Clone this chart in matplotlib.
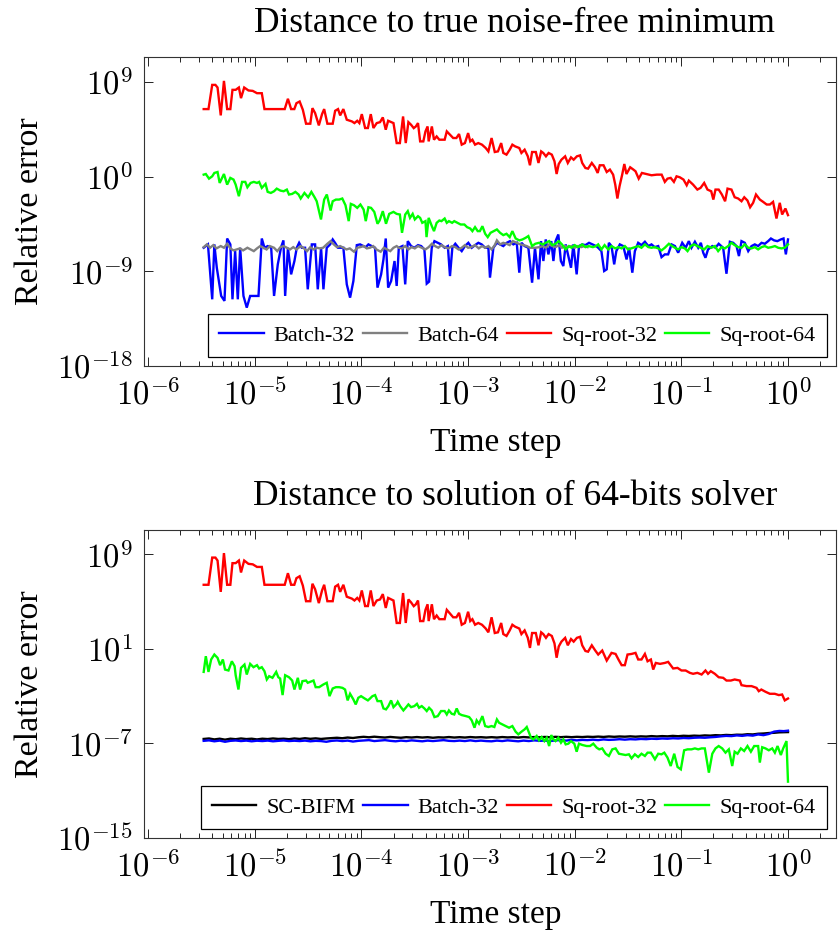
import numpy as np
import matplotlib
matplotlib.use("Agg")
import matplotlib.pyplot as plt
from matplotlib.ticker import FixedLocator, FixedFormatter, LogLocator, NullFormatter, NullLocator

plt.rcParams['font.family'] = ['Liberation Serif', 'DejaVu Serif']
plt.rcParams['mathtext.fontset'] = 'cm'

# ---------------- data: (log10 time step, log10 relative error) ----------------
sqrt32_common = [(-5.48, 6.42), (-5.435, 6.42), (-5.40, 8.72), (-5.37, 8.72), (-5.35, 8.47), (-5.32, 5.82),
    (-5.29, 9.10), (-5.26, 6.42), (-5.23, 6.42), (-5.21, 8.25), (-5.18, 8.25), (-5.15, 8.47), (-5.13, 7.46),
    (-5.10, 8.47), (-5.06, 8.19), (-5.02, 8.15), (-4.98, 7.93), (-4.935, 7.93), (-4.91, 6.42), (-4.72, 6.42),
    (-4.69, 7.40), (-4.66, 6.42), (-4.63, 6.42), (-4.61, 6.98), (-4.58, 7.14), (-4.55, 6.35), (-4.52, 5.03),
    (-4.48, 5.03), (-4.46, 6.51), (-4.435, 6.04), (-4.40, 4.87), (-4.37, 5.94), (-4.35, 6.42), (-4.32, 5.03),
    (-4.27, 5.03), (-4.247, 6.26), (-4.22, 6.42), (-4.20, 5.82), (-4.17, 6.42), (-4.138, 5.41), (-4.09, 5.25),
    (-4.066, 5.09), (-4.04, 5.31), (-4.02, 5.09), (-3.997, 5.94), (-3.966, 4.62), (-3.94, 4.62), (-3.913, 5.94),
    (-3.888, 4.62), (-3.857, 5.09), (-3.826, 5.18), (-3.80, 5.63), (-3.7725, 4.46), (-3.75, 5.31), (-3.70, 5.09),
    (-3.67, 3.19), (-3.64, 3.19), (-3.61, 5.72), (-3.585, 3.19), (-3.56, 5.18), (-3.535, 4.93), (-3.51, 4.61),
    (-3.49, 4.77), (-3.47, 5.09), (-3.45, 3.35), (-3.42, 3.35), (-3.40, 4.30), (-3.38, 4.77), (-3.37, 3.35),
    (-3.34, 4.77), (-3.32, 3.51), (-3.295, 3.82), (-3.27, 3.51), (-3.25, 3.51), (-3.22, 3.51), (-3.20, 4.30),
    (-3.17, 3.98), (-3.14, 3.67), (-3.11, 3.67), (-3.085, 4.05), (-3.06, 3.04), (-3.03, 3.19), (-3.00, 4.14),
    (-2.98, 3.35), (-2.96, 3.51), (-2.935, 3.04), (-2.905, 3.19), (-2.87, 3.04), (-2.835, 2.72), (-2.81, 2.40),
    (-2.78, 3.67), (-2.75, 2.34), (-2.72, 2.40), (-2.69, 3.19), (-2.67, 2.25), (-2.64, 2.09), (-2.61, 2.56),
    (-2.585, 3.04), (-2.56, 2.88), (-2.52, 2.72), (-2.50, 2.25), (-2.47, 2.56), (-2.44, 1.93), (-2.42, 1.08),
    (-2.40, 2.34), (-2.365, 2.34), (-2.34, 1.30), (-2.315, 2.40), (-2.295, 2.25), (-2.27, 1.93), (-2.245, 2.25),
    (-2.215, 2.09), (-2.19, 1.46), (-2.17, 0.25), (-2.15, 1.20), (-2.125, 1.61), (-2.09, 1.93), (-2.065, 1.30),
    (-2.035, 1.83), (-2.01, 1.61), (-1.98, 1.93), (-1.95, 2.02), (-1.93, 1.30), (-1.90, 0.82), (-1.875, 0.76),
    (-1.84, 1.30), (-1.81, 0.89)]

sqrt32_top_tail = [(-1.785, 0.35), (-1.765, 1.08), (-1.73, 1.08), (-1.70, 0.44), (-1.67, 0.67), (-1.64, 0.19),
    (-1.62, -0.76), (-1.60, -2.08), (-1.58, -0.92), (-1.555, 0.19), (-1.535, 1.20), (-1.515, 0.25), (-1.48, 0.89),
    (-1.45, 0.67), (-1.43, 0.51), (-1.40, -0.19), (-1.37, 0.35), (-1.33, 0.25), (-1.28, 0.13), (-1.23, 0.19),
    (-1.185, 0.19), (-1.155, -0.50), (-1.13, -0.19), (-1.10, -0.12), (-1.07, -0.50), (-1.045, 0.03),
    (-1.015, -0.06), (-0.98, -0.28), (-0.95, -0.82), (-0.93, -0.38), (-0.89, -0.76), (-0.85, -1.23),
    (-0.82, -1.07), (-0.786, -0.60), (-0.755, -1.23), (-0.72, -1.39), (-0.70, -2.18), (-0.68, -1.23),
    (-0.65, -1.23), (-0.62, -1.70), (-0.59, -2.34), (-0.567, -1.14), (-0.53, -1.23), (-0.50, -1.96),
    (-0.467, -2.08), (-0.436, -2.34), (-0.41, -1.96), (-0.38, -2.27), (-0.355, -2.91), (-0.327, -2.49),
    (-0.30, -1.70), (-0.264, -2.18), (-0.233, -2.40), (-0.20, -2.65), (-0.17, -2.65), (-0.14, -2.40),
    (-0.108, -3.98), (-0.077, -2.49), (-0.055, -3.60), (-0.024, -3.03), (0.0, -3.66)]

sqrt32_bot_tail = [(-1.78, 0.52), (-1.742, 0.86), (-1.70, 0.01), (-1.655, 0.66), (-1.617, 0.57), (-1.59, 0.10),
    (-1.56, -0.38), (-1.53, -0.38), (-1.505, 0.52), (-1.467, 0.57), (-1.43, 0.66), (-1.405, 0.10), (-1.374, 0.10),
    (-1.342, 0.57), (-1.317, -0.05), (-1.286, 0.10), (-1.264, -0.75), (-1.24, -0.19), (-1.20, -0.27),
    (-1.155, -0.19), (-1.124, -0.10), (-1.077, -0.66), (-1.036, -0.61), (-0.999, -0.83), (-0.96, -0.83),
    (-0.92, -1.03), (-0.89, -1.11), (-0.85, -1.03), (-0.81, -1.17), (-0.774, -0.83), (-0.75, -1.11),
    (-0.724, -0.89), (-0.686, -1.11), (-0.65, -1.40), (-0.608, -1.45), (-0.577, -1.68), (-0.536, -1.68),
    (-0.50, -1.59), (-0.452, -1.68), (-0.436, -2.07), (-0.389, -2.15), (-0.342, -2.15), (-0.295, -2.30),
    (-0.274, -2.58), (-0.25, -2.44), (-0.211, -2.63), (-0.17, -2.80), (-0.124, -2.80), (-0.086, -2.91),
    (-0.055, -2.86), (-0.03, -3.36), (0.0, -3.20)]

sqrt64_top = [(-5.48, 0.19), (-5.46, 0.25), (-5.43, -0.19), (-5.40, 0.03), (-5.38, 0.35), (-5.35, 0.44),
    (-5.33, -0.60), (-5.29, 0.25), (-5.26, -0.76), (-5.23, -0.12), (-5.20, -0.28), (-5.18, -0.76), (-5.15, -1.86),
    (-5.12, -0.50), (-5.09, -0.50), (-5.07, -1.01), (-5.04, -0.60), (-5.01, -0.50), (-4.98, -0.60), (-4.96, -0.50),
    (-4.935, -1.07), (-4.90, -0.69), (-4.88, -1.45), (-4.85, -1.55), (-4.82, -1.39), (-4.795, -1.14),
    (-4.76, -1.33), (-4.73, -1.39), (-4.70, -1.23), (-4.68, -1.70), (-4.65, -1.64), (-4.62, -1.45), (-4.59, -1.70),
    (-4.57, -2.08), (-4.535, -1.55), (-4.50, -1.96), (-4.47, -1.45), (-4.44, -1.96), (-4.42, -2.34), (-4.38, -4.07),
    (-4.35, -2.18), (-4.325, -1.70), (-4.29, -3.22), (-4.27, -2.34), (-4.24, -2.18), (-4.21, -2.18), (-4.18, -2.08),
    (-4.15, -2.72), (-4.12, -4.23), (-4.10, -2.59), (-4.07, -2.72), (-4.04, -2.97), (-4.01, -2.65), (-3.98, -3.13),
    (-3.96, -4.23), (-3.935, -2.91), (-3.91, -2.97), (-3.88, -3.35), (-3.85, -4.48), (-3.83, -4.17), (-3.80, -3.28),
    (-3.77, -4.48), (-3.74, -3.54), (-3.70, -3.35), (-3.67, -3.54), (-3.64, -3.60),
    (-3.62, -5.34), (-3.59, -3.60), (-3.566, -3.28), (-3.545, -3.92), (-3.52, -3.54), (-3.50, -4.07),
    (-3.47, -3.76), (-3.45, -3.92), (-3.43, -4.39), (-3.40, -4.23), (-3.39, -5.75), (-3.37, -3.92), (-3.34, -4.71),
    (-3.32, -5.18), (-3.295, -4.39), (-3.27, -4.17), (-3.25, -4.23), (-3.22, -3.98), (-3.20, -4.39), (-3.18, -4.23),
    (-3.15, -4.39), (-3.13, -4.23), (-3.10, -4.39), (-3.07, -4.55), (-3.035, -4.55), (-3.01, -4.80), (-2.98, -4.93),
    (-2.96, -5.18), (-2.935, -4.80), (-2.91, -5.18), (-2.89, -5.18), (-2.866, -4.71), (-2.84, -5.43),
    (-2.816, -5.75), (-2.79, -5.34), (-2.76, -5.18), (-2.73, -5.02), (-2.70, -5.34), (-2.67, -5.56), (-2.64, -5.43),
    (-2.61, -5.75), (-2.585, -5.18), (-2.554, -5.88), (-2.52, -6.06), (-2.49, -5.97), (-2.46, -5.81),
    (-2.435, -5.65), (-2.40, -6.60), (-2.37, -6.38), (-2.335, -6.29), (-2.30, -6.44), (-2.27, -6.29),
    (-2.24, -6.13), (-2.21, -6.51), (-2.18, -6.38), (-2.15, -6.13), (-2.12, -6.44), (-2.085, -6.92),
    (-2.054, -6.60), (-2.03, -6.76), (-2.00, -6.51), (-1.97, -6.70), (-1.93, -6.44), (-1.90, -6.70),
    (-1.87, -6.60), (-1.83, -6.70), (-1.80, -6.60),
    (-1.78, -6.44), (-1.75, -6.92), (-1.72, -6.51), (-1.686, -6.92), (-1.655, -6.60), (-1.62, -6.82),
    (-1.59, -6.70), (-1.56, -6.82), (-1.53, -6.60), (-1.50, -6.92), (-1.47, -6.82), (-1.436, -6.70),
    (-1.405, -6.60), (-1.374, -6.76), (-1.342, -6.44), (-1.31, -6.70), (-1.28, -6.76), (-1.25, -6.70),
    (-1.217, -6.82), (-1.186, -7.01), (-1.155, -6.76), (-1.117, -6.38), (-1.086, -6.60), (-1.06, -6.76),
    (-1.03, -6.92), (-0.999, -6.70), (-0.967, -6.82), (-0.942, -7.08), (-0.911, -6.60), (-0.88, -6.44),
    (-0.85, -6.60), (-0.817, -6.76), (-0.786, -6.92), (-0.755, -6.60), (-0.717, -6.76), (-0.686, -6.60),
    (-0.655, -7.08), (-0.623, -6.70), (-0.592, -6.82), (-0.561, -6.60), (-0.53, -6.29), (-0.50, -6.51),
    (-0.467, -6.70), (-0.436, -6.76), (-0.405, -6.44), (-0.373, -6.76), (-0.342, -6.82), (-0.311, -6.70),
    (-0.28, -6.92), (-0.248, -6.70), (-0.217, -6.60), (-0.186, -6.76), (-0.155, -6.70), (-0.123, -6.60),
    (-0.092, -6.76), (-0.061, -6.82), (-0.03, -6.76), (0.0, -6.44)]

batch32_top = [(-5.48, -6.76), (-5.44, -6.44), (-5.40, -11.66), (-5.38, -6.44), (-5.357, -8.66), (-5.316, -11.34),
    (-5.285, -11.81), (-5.26, -5.88), (-5.23, -6.44), (-5.21, -11.66), (-5.185, -7.08), (-5.16, -11.66),
    (-5.138, -6.76), (-5.107, -11.34), (-5.076, -12.45), (-5.044, -11.34), (-4.966, -11.34), (-4.935, -5.88),
    (-4.91, -6.76), (-4.879, -6.60), (-4.847, -6.76), (-4.82, -11.34), (-4.785, -8.34), (-4.754, -6.70),
    (-4.732, -6.06), (-4.716, -11.34), (-4.69, -6.76), (-4.66, -9.29), (-4.629, -8.02), (-4.607, -6.76),
    (-4.585, -6.29), (-4.56, -6.76), (-4.529, -6.76), (-4.504, -10.71), (-4.466, -6.44), (-4.435, -6.44),
    (-4.41, -10.71), (-4.379, -6.76), (-4.357, -10.71), (-4.326, -6.76), (-4.294, -6.44), (-4.27, -5.97),
    (-4.248, -6.29), (-4.22, -6.76), (-4.20, -6.76), (-4.17, -6.76), (-4.138, -10.24), (-4.107, -11.50),
    (-4.076, -9.92), (-4.044, -6.51), (-4.013, -6.44), (-3.982, -6.60), (-3.96, -6.70), (-3.935, -6.44),
    (-3.904, -6.60), (-3.873, -6.76), (-3.85, -10.55), (-3.816, -9.29), (-3.794, -7.87), (-3.7725, -5.88),
    (-3.75, -10.55), (-3.722, -9.92), (-3.69, -8.02), (-3.67, -10.39), (-3.65, -6.76), (-3.616, -6.60),
    (-3.59, -10.24), (-3.566, -6.13), (-3.535, -6.60), (-3.504, -6.76), (-3.47, -6.51), (-3.44, -6.60),
    (-3.41, -6.92), (-3.388, -10.17), (-3.366, -9.98), (-3.341, -6.76), (-3.316, -6.13), (-3.285, -6.29),
    (-3.254, -6.44), (-3.22, -6.76), (-3.19, -6.60), (-3.17, -9.45), (-3.148, -6.76), (-3.12, -6.38),
    (-3.09, -6.76), (-3.06, -7.08), (-3.03, -6.60), (-2.998, -6.29), (-2.966, -6.76), (-2.935, -6.51),
    (-2.904, -6.29), (-2.873, -6.44), (-2.84, -6.76), (-2.81, -6.76), (-2.795, -9.60), (-2.763, -6.76),
    (-2.73, -6.29), (-2.70, -6.44), (-2.67, -6.60), (-2.638, -6.29), (-2.607, -6.13), (-2.576, -6.44),
    (-2.544, -6.29), (-2.52, -9.13), (-2.50, -6.29), (-2.47, -6.60), (-2.435, -6.76), (-2.40, -10.08),
    (-2.373, -6.76), (-2.34, -9.76), (-2.316, -6.13), (-2.294, -8.02), (-2.272, -5.97), (-2.247, -7.39),
    (-2.22, -6.13), (-2.20, -8.02), (-2.18, -6.13), (-2.154, -5.50), (-2.13, -8.02), (-2.107, -8.50),
    (-2.085, -6.44), (-2.06, -7.55), (-2.035, -8.66), (-2.013, -6.44), (-1.982, -9.29), (-1.96, -6.60),
    (-1.93, -6.44), (-1.90, -6.51), (-1.866, -6.29), (-1.835, -6.44), (-1.80, -6.60), (-1.78, -6.76),
    (-1.75, -7.08), (-1.724, -8.97), (-1.70, -8.81), (-1.68, -6.29), (-1.655, -6.60), (-1.63, -8.34),
    (-1.61, -7.08), (-1.577, -6.44), (-1.545, -6.60), (-1.514, -7.87), (-1.49, -6.76), (-1.46, -9.13),
    (-1.436, -7.08), (-1.405, -6.29), (-1.374, -6.51), (-1.342, -6.19), (-1.31, -6.60), (-1.28, -6.44),
    (-1.25, -6.70), (-1.217, -6.60), (-1.186, -7.65), (-1.155, -7.39), (-1.124, -7.39), (-1.092, -6.44),
    (-1.06, -6.60), (-1.03, -7.23), (-0.992, -6.29), (-0.96, -6.76), (-0.93, -6.13), (-0.905, -6.76),
    (-0.873, -6.19), (-0.842, -6.76), (-0.817, -6.29), (-0.795, -7.23), (-0.774, -7.71), (-0.75, -6.92),
    (-0.71, -6.60), (-0.68, -6.76), (-0.65, -6.38), (-0.608, -6.76), (-0.577, -9.23), (-0.545, -6.19),
    (-0.514, -6.29), (-0.483, -6.60), (-0.46, -7.55), (-0.436, -6.13), (-0.405, -6.29), (-0.373, -7.08),
    (-0.342, -6.60), (-0.311, -6.44), (-0.28, -6.60), (-0.248, -6.29), (-0.217, -6.38), (-0.186, -6.13),
    (-0.16, -5.88), (-0.13, -6.06), (-0.10, -6.13), (-0.067, -5.97), (-0.042, -5.88), (-0.02, -7.39),
    (0.0, -5.97)]

batch64_top = [(-5.48, -6.70), (-5.45, -6.44), (-5.42, -6.76), (-5.39, -6.51), (-5.36, -6.82), (-5.32, -6.60),
    (-5.29, -6.76), (-5.26, -6.38), (-5.23, -6.82), (-5.20, -7.01), (-5.17, -6.92), (-5.14, -6.82), (-5.11, -7.01),
    (-5.07, -6.76), (-5.04, -6.92), (-5.01, -7.08), (-4.98, -6.82), (-4.95, -6.60), (-4.92, -6.76), (-4.89, -6.92),
    (-4.86, -6.60), (-4.82, -6.76), (-4.79, -7.08), (-4.76, -6.70), (-4.73, -6.60), (-4.70, -6.76), (-4.67, -6.92),
    (-4.64, -6.70), (-4.61, -6.92), (-4.57, -6.60), (-4.54, -6.82), (-4.51, -7.08), (-4.48, -6.70), (-4.45, -6.92),
    (-4.42, -6.76), (-4.39, -6.82), (-4.36, -6.76), (-4.32, -6.38), (-4.29, -6.13), (-4.26, -6.44), (-4.23, -6.70),
    (-4.20, -6.60), (-4.17, -6.76), (-4.14, -6.92), (-4.11, -6.82), (-4.07, -7.14), (-4.04, -6.76), (-4.01, -6.70),
    (-3.98, -6.60), (-3.95, -6.82), (-3.92, -6.76), (-3.89, -6.60), (-3.86, -6.92), (-3.82, -7.14), (-3.79, -6.76),
    (-3.76, -6.92), (-3.73, -7.08), (-3.70, -6.76), (-3.67, -6.60), (-3.65, -6.76), (-3.62, -6.82), (-3.59, -6.60),
    (-3.56, -6.92), (-3.53, -6.70), (-3.50, -6.82), (-3.47, -6.60), (-3.435, -6.76), (-3.40, -6.92), (-3.37, -6.70),
    (-3.34, -6.38), (-3.31, -6.60), (-3.28, -6.76), (-3.25, -6.51), (-3.22, -6.70), (-3.185, -6.82), (-3.15, -6.60),
    (-3.12, -6.70), (-3.09, -6.92), (-3.06, -6.76), (-3.03, -6.51), (-3.00, -6.76), (-2.97, -6.70), (-2.935, -6.51),
    (-2.90, -6.82), (-2.87, -6.60), (-2.84, -6.76), (-2.81, -6.60), (-2.78, -6.92), (-2.75, -6.51), (-2.73, -6.06),
    (-2.70, -6.44), (-2.67, -6.29), (-2.64, -6.38), (-2.61, -6.51), (-2.58, -6.13), (-2.545, -6.29), (-2.51, -6.44),
    (-2.48, -6.51), (-2.45, -6.60), (-2.42, -6.76), (-2.37, -6.76), (-2.33, -6.70), (-2.30, -6.60), (-2.27, -6.76),
    (-2.24, -6.44), (-2.21, -6.60), (-2.18, -6.70), (-2.15, -6.51), (-2.12, -6.76), (-2.09, -6.60), (-2.06, -6.70),
    (-2.03, -6.60), (-2.00, -6.76), (-1.97, -6.60), (-1.94, -6.70), (-1.91, -6.60), (-1.88, -6.70)]

sqrt64_bot = [(-5.48, -0.95), (-5.46, 0.38), (-5.435, -0.95), (-5.41, 0.10), (-5.38, 0.52), (-5.35, 0.24),
    (-5.326, -0.38), (-5.30, 0.10), (-5.28, -0.75), (-5.2475, -0.83), (-5.216, -0.05), (-5.19, -0.47),
    (-5.18, -1.23), (-5.154, -2.44), (-5.13, -0.61), (-5.0975, -0.33), (-5.076, -1.17), (-5.044, -0.27),
    (-5.013, -0.55), (-4.98, -0.38), (-4.96, -0.66), (-4.935, -0.55), (-4.91, -0.89), (-4.888, -1.59),
    (-4.866, -1.31), (-4.835, -1.45), (-4.80, -0.95), (-4.78, -1.40), (-4.763, -1.51), (-4.74, -2.91),
    (-4.716, -1.23), (-4.68, -1.40), (-4.65, -1.68), (-4.629, -2.44), (-4.597, -1.45), (-4.576, -2.44),
    (-4.554, -1.73), (-4.52, -1.68), (-4.504, -1.87), (-4.48, -1.79), (-4.45, -1.68), (-4.43, -2.24),
    (-4.397, -2.24), (-4.357, -2.01), (-4.326, -1.87), (-4.30, -3.00), (-4.27, -2.35), (-4.24, -2.24),
    (-4.21, -2.24), (-4.178, -2.30), (-4.154, -2.44), (-4.13, -3.36), (-4.107, -2.80), (-4.076, -3.28),
    (-4.054, -3.70), (-4.03, -3.14), (-4.004, -3.00), (-3.97, -3.20), (-3.94, -3.36), (-3.92, -3.20),
    (-3.8975, -3.00), (-3.8725, -2.91), (-3.85, -3.42), (-3.816, -3.42), (-3.794, -4.04), (-3.77, -4.12),
    (-3.7475, -3.84), (-3.7225, -3.36), (-3.70, -3.93), (-3.67, -3.65),
    (-3.66, -3.48), (-3.638, -3.84), (-3.607, -4.21), (-3.585, -3.98), (-3.56, -3.70), (-3.535, -3.93),
    (-3.504, -3.84), (-3.48, -3.65), (-3.46, -3.98), (-3.435, -3.84), (-3.41, -4.04), (-3.388, -4.26),
    (-3.366, -3.98), (-3.341, -4.21), (-3.316, -4.77), (-3.285, -4.69), (-3.254, -4.26), (-3.22, -4.26),
    (-3.20, -4.55), (-3.18, -4.21), (-3.154, -4.49), (-3.13, -4.55), (-3.107, -4.04), (-3.085, -4.49),
    (-3.06, -4.60), (-3.02, -4.69), (-2.99, -4.77), (-2.966, -5.05), (-2.94, -5.67), (-2.92, -5.05),
    (-2.898, -5.33), (-2.866, -4.69), (-2.84, -5.53), (-2.81, -5.61), (-2.78, -5.53), (-2.754, -5.61),
    (-2.73, -4.97), (-2.71, -5.25), (-2.68, -5.39), (-2.648, -5.53), (-2.616, -5.67), (-2.585, -5.53),
    (-2.554, -6.01), (-2.529, -6.23), (-2.50, -6.01), (-2.47, -5.81), (-2.45, -5.61), (-2.429, -6.09),
    (-2.41, -6.52), (-2.388, -6.66), (-2.357, -6.37), (-2.335, -6.74), (-2.31, -6.46), (-2.285, -6.80),
    (-2.263, -6.52), (-2.24, -7.22), (-2.22, -6.29), (-2.20, -6.66), (-2.18, -6.80), (-2.154, -6.52),
    (-2.129, -6.94), (-2.107, -6.66), (-2.085, -7.08), (-2.06, -7.02), (-2.035, -6.80), (-2.004, -7.02),
    (-1.982, -7.70), (-1.96, -7.02), (-1.929, -7.13), (-1.888, -7.22), (-1.857, -7.22), (-1.826, -7.02),
    (-1.794, -7.36), (-1.77, -7.50),
    (-1.742, -7.42), (-1.71, -7.87), (-1.68, -8.06), (-1.648, -7.50), (-1.617, -7.42), (-1.586, -7.87),
    (-1.555, -7.92), (-1.523, -7.98), (-1.492, -7.92), (-1.467, -8.26), (-1.436, -7.92), (-1.405, -8.15),
    (-1.374, -7.87), (-1.342, -8.06), (-1.317, -7.78), (-1.286, -7.78), (-1.248, -8.34), (-1.217, -7.87),
    (-1.186, -7.92), (-1.16, -7.78), (-1.13, -8.20), (-1.10, -8.91), (-1.067, -7.87), (-1.036, -8.99),
    (-1.005, -9.19), (-0.974, -7.58), (-0.942, -7.50), (-0.905, -7.50), (-0.873, -7.42), (-0.842, -7.50),
    (-0.81, -7.42), (-0.78, -7.42), (-0.742, -9.47), (-0.71, -7.87), (-0.68, -7.42), (-0.65, -7.22),
    (-0.617, -7.42), (-0.586, -7.78), (-0.555, -7.50), (-0.523, -8.91), (-0.50, -7.70), (-0.473, -7.87),
    (-0.442, -7.42), (-0.411, -7.64), (-0.38, -7.22), (-0.348, -7.70), (-0.317, -7.22), (-0.28, -7.22),
    (-0.264, -8.62), (-0.242, -7.32), (-0.211, -7.42), (-0.18, -7.58), (-0.148, -7.42), (-0.123, -7.78),
    (-0.098, -7.22), (-0.067, -7.98), (-0.045, -7.42), (-0.014, -6.80), (0.0, -10.23)]

batch32_bot = [(-5.48, -6.78), (-5.43, -6.74), (-5.38, -6.82), (-5.33, -6.76), (-5.28, -6.86), (-5.23, -6.78),
    (-5.18, -6.75), (-5.13, -6.80), (-5.08, -6.76), (-5.03, -6.82), (-4.98, -6.77), (-4.93, -6.80), (-4.88, -6.76),
    (-4.83, -6.82), (-4.78, -6.78), (-4.73, -6.75), (-4.68, -6.80), (-4.63, -6.77), (-4.58, -6.80), (-4.53, -6.76),
    (-4.48, -6.82), (-4.43, -6.78), (-4.38, -6.80), (-4.33, -6.86), (-4.28, -6.78), (-4.23, -6.75), (-4.18, -6.80),
    (-4.13, -6.76), (-4.08, -6.84), (-4.03, -6.78), (-3.98, -6.75), (-3.93, -6.72), (-3.88, -6.80), (-3.83, -6.76),
    (-3.78, -6.72), (-3.73, -6.78), (-3.68, -6.82), (-3.63, -6.76), (-3.58, -6.80), (-3.53, -6.74), (-3.48, -6.78),
    (-3.43, -6.82), (-3.38, -6.76), (-3.33, -6.80), (-3.28, -6.76), (-3.23, -6.72), (-3.18, -6.78), (-3.13, -6.80),
    (-3.08, -6.76), (-3.03, -6.80), (-2.98, -6.74), (-2.93, -6.80), (-2.88, -6.76), (-2.83, -6.80), (-2.78, -6.82),
    (-2.73, -6.76), (-2.68, -6.80), (-2.63, -6.74), (-2.58, -6.78), (-2.53, -6.82), (-2.48, -6.76), (-2.43, -6.80),
    (-2.38, -6.74), (-2.33, -6.78), (-2.28, -6.76), (-2.23, -6.80), (-2.18, -6.74), (-2.13, -6.72), (-2.08, -6.76),
    (-2.03, -6.70), (-1.98, -6.74), (-1.93, -6.70), (-1.88, -6.72), (-1.83, -6.68), (-1.78, -6.72), (-1.73, -6.66),
    (-1.68, -6.70), (-1.63, -6.68), (-1.58, -6.64), (-1.53, -6.68), (-1.48, -6.64), (-1.43, -6.66), (-1.38, -6.62),
    (-1.33, -6.64), (-1.28, -6.60), (-1.23, -6.62), (-1.18, -6.58), (-1.13, -6.60), (-1.08, -6.56), (-1.03, -6.58),
    (-0.98, -6.54), (-0.93, -6.56), (-0.88, -6.52), (-0.83, -6.50), (-0.78, -6.52), (-0.73, -6.48), (-0.68, -6.45),
    (-0.63, -6.40), (-0.58, -6.36), (-0.53, -6.38), (-0.48, -6.32), (-0.43, -6.36), (-0.38, -6.30), (-0.33, -6.34),
    (-0.28, -6.24), (-0.23, -6.30), (-0.18, -6.20), (-0.13, -6.00), (-0.08, -5.94), (-0.04, -5.96), (0.0, -5.92)]

scbifm_bot = [(-5.48, -6.62), (-5.43, -6.58), (-5.38, -6.66), (-5.33, -6.60), (-5.28, -6.68), (-5.23, -6.60),
    (-5.18, -6.64), (-5.13, -6.58), (-5.08, -6.63), (-5.03, -6.60), (-4.98, -6.66), (-4.93, -6.60), (-4.88, -6.63),
    (-4.83, -6.58), (-4.78, -6.62), (-4.73, -6.60), (-4.68, -6.64), (-4.63, -6.58), (-4.58, -6.62), (-4.53, -6.56),
    (-4.48, -6.61), (-4.43, -6.57), (-4.38, -6.62), (-4.33, -6.58), (-4.28, -6.55), (-4.23, -6.52), (-4.18, -6.56),
    (-4.13, -6.50), (-4.08, -6.54), (-4.03, -6.48), (-3.98, -6.44), (-3.93, -6.48), (-3.88, -6.43), (-3.83, -6.47),
    (-3.78, -6.50), (-3.73, -6.45), (-3.68, -6.49), (-3.63, -6.52), (-3.58, -6.47), (-3.53, -6.50), (-3.48, -6.46),
    (-3.43, -6.50), (-3.38, -6.47), (-3.33, -6.52), (-3.28, -6.48), (-3.23, -6.50), (-3.18, -6.46), (-3.13, -6.50),
    (-3.08, -6.47), (-3.03, -6.50), (-2.98, -6.46), (-2.93, -6.49), (-2.88, -6.47), (-2.83, -6.50), (-2.78, -6.47),
    (-2.73, -6.50), (-2.68, -6.46), (-2.63, -6.49), (-2.58, -6.47), (-2.53, -6.50), (-2.48, -6.46), (-2.43, -6.49),
    (-2.38, -6.46), (-2.33, -6.48), (-2.28, -6.45), (-2.23, -6.48), (-2.18, -6.44), (-2.13, -6.47), (-2.08, -6.44),
    (-2.03, -6.47), (-1.98, -6.44), (-1.93, -6.46), (-1.88, -6.43), (-1.83, -6.45), (-1.78, -6.42), (-1.73, -6.45),
    (-1.68, -6.41), (-1.63, -6.44), (-1.58, -6.41), (-1.53, -6.43), (-1.48, -6.40), (-1.43, -6.43), (-1.38, -6.40),
    (-1.33, -6.42), (-1.28, -6.38), (-1.23, -6.41), (-1.18, -6.38), (-1.13, -6.40), (-1.08, -6.36), (-1.03, -6.39),
    (-0.98, -6.35), (-0.93, -6.37), (-0.88, -6.34), (-0.83, -6.36), (-0.78, -6.32), (-0.73, -6.34), (-0.68, -6.30),
    (-0.63, -6.32), (-0.58, -6.28), (-0.53, -6.30), (-0.48, -6.26), (-0.43, -6.27), (-0.38, -6.22), (-0.33, -6.24),
    (-0.28, -6.18), (-0.23, -6.16), (-0.18, -6.12), (-0.13, -6.10), (-0.08, -6.06), (-0.04, -6.05), (0.0, -6.04)]

x_tick_exps = [-6, -5, -4, -3, -2, -1, 0]
top_y_tick_exps = [-18, -9, 0, 9]
bot_y_tick_exps = [-15, -7, 1, 9]
titles = ["Distance to true noise-free minimum", "Distance to solution of 64-bits solver"]
xlabel = "Time step"
ylabel = "Relative error"


def xy(pairs):
    arr = np.array(pairs, dtype=float)
    return 10.0 ** arr[:, 0], 10.0 ** arr[:, 1]


fig = plt.figure(figsize=(8.4, 9.33), dpi=100)
ax1 = fig.add_axes([0.1714, 0.6077, 0.8238, 0.3312])
ax2 = fig.add_axes([0.1714, 0.1018, 0.8238, 0.3301])

LW = 1.7
top_series = [
    (batch32_top, 'Batch-32', '#0000ff'),
    (batch64_top, 'Batch-64', '#808080'),
    (sqrt32_common + sqrt32_top_tail, 'Sq-root-32', '#ff0000'),
    (sqrt64_top, 'Sq-root-64', '#00ff00'),
]
bot_series = [
    (scbifm_bot, 'SC-BIFM', '#000000'),
    (batch32_bot, 'Batch-32', '#0000ff'),
    (sqrt32_common + sqrt32_bot_tail, 'Sq-root-32', '#ff0000'),
    (sqrt64_bot, 'Sq-root-64', '#00ff00'),
]

for ax, series, ylim, yt, title in [
        (ax1, top_series, (1e-18, 10 ** 11.37), top_y_tick_exps, titles[0]),
        (ax2, bot_series, (1e-15, 10 ** 11.05), bot_y_tick_exps, titles[1])]:
    for pairs, lab, col in series:
        x, y = xy(pairs)
        ax.plot(x, y, color=col, lw=LW, label=lab, solid_joinstyle='miter')
    ax.set_xscale('log')
    ax.set_yscale('log')
    ax.set_xlim(10 ** -6.04, 10 ** 0.45)
    ax.set_ylim(*ylim)
    ax.xaxis.set_major_locator(FixedLocator([10.0 ** e for e in x_tick_exps]))
    ax.xaxis.set_major_formatter(FixedFormatter([r'$10^{%d}$' % e for e in x_tick_exps]))
    ax.xaxis.set_minor_locator(LogLocator(base=10, subs=np.arange(2, 10), numticks=20))
    ax.xaxis.set_minor_formatter(NullFormatter())
    ax.yaxis.set_major_locator(FixedLocator([10.0 ** e for e in yt]))
    ax.yaxis.set_major_formatter(FixedFormatter([r'$10^{%d}$' % e for e in yt]))
    ax.yaxis.set_minor_locator(NullLocator())
    ax.tick_params(which='both', direction='in', top=True, right=True, width=0.6, labelsize=23.5)
    ax.tick_params(which='major', length=6.5)
    ax.tick_params(which='minor', length=3.5)
    ax.tick_params(axis='x', pad=9)
    ax.tick_params(axis='y', pad=8)
    for sp in ax.spines.values():
        sp.set_linewidth(0.8)
        sp.set_color('#333333')
    ax.set_title(title, fontsize=25.5, pad=18, x=0.536)
    ax.set_xlabel(xlabel, fontsize=24, labelpad=10)
    ax.xaxis.set_label_coords(0.509, -0.2)
    ax.set_ylabel(ylabel, fontsize=24.5, labelpad=9)
    leg = ax.legend(loc='lower right', ncol=4, fontsize=16, frameon=True, fancybox=False,
                    edgecolor='black', framealpha=1, handlelength=2.0, handletextpad=0.45,
                    columnspacing=0.35, borderpad=0.5, borderaxespad=0.42)
    leg.get_frame().set_linewidth(0.9)

fig.savefig('out.png', dpi=100)
